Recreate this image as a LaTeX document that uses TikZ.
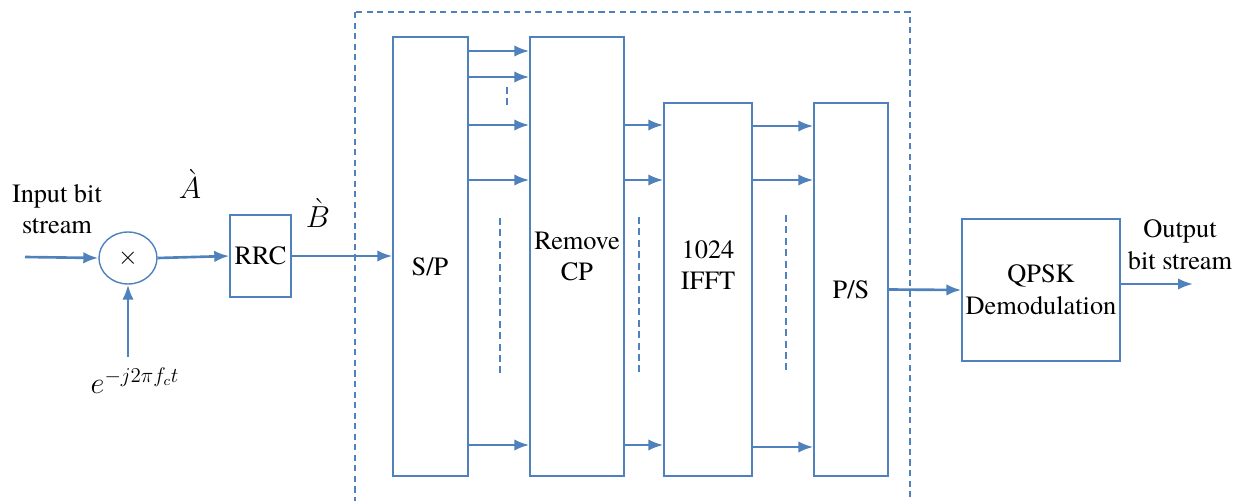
\documentclass[tikz,border=0pt]{standalone}
\usepackage{fontspec}
\setmainfont{TeX Gyre Termes}
\usetikzlibrary{arrows.meta,shapes.geometric}
\definecolor{lineblue}{RGB}{79,129,189}
\begin{document}
\begin{tikzpicture}[x=0.02cm, y=-0.02cm, >={Latex[length=3mm,width=2.3mm]},
  blk/.style={draw=lineblue, line width=0.8pt, inner sep=0pt, align=center,
    font=\fontsize{15}{18}\selectfont},
  sig/.style={->, draw=lineblue, line width=1.5pt},
  dots/.style={draw=lineblue, line width=0.8pt, dash pattern=on 4pt off 2.5pt},
  txt/.style={font=\fontsize{15}{18}\selectfont, align=center, inner sep=0pt},
  mth/.style={font=\fontsize{17}{20}\selectfont, inner sep=0pt}]
\useasboundingbox (0,0) rectangle (1246,500);
% receiver front end
\node[blk, ellipse, minimum width=1.16cm, minimum height=1.04cm] (mix) at (128,258) {$\times$};
\node[blk, minimum width=1.22cm, minimum height=1.64cm] (rrc) at (260.5,256) {RRC};
\coordinate (in) at (25,257);
\coordinate (lo) at (128,357);
\node[txt] (inlbl) at (57,209) {Input bit\\stream};
\node[mth] (lolbl) at (135,381) {$e^{-j2\pi f_c t}$};
\node[mth] (albl) at (190,184) {$\grave{A}$};
\node[mth] (blbl) at (318,213) {$\grave{B}$};
\draw[sig] (in) -- (mix.west);
\draw[sig] (lo) -- (mix.south);
\draw[sig] (mix.east) -- (rrc.west);
% OFDM part
\draw[draw=lineblue, line width=0.6pt, dash pattern=on 3.5pt off 2.5pt] (355,12) rectangle (910,520);
\node[blk, minimum width=1.5cm, minimum height=8.78cm] (sp) at (430.5,256.5) {};
\node[txt] (splbl) at (430,267) {S/P};
\node[blk, minimum width=1.88cm, minimum height=8.78cm] (rcp) at (577,256.5) {Remove\\CP};
\node[blk, minimum width=1.76cm, minimum height=7.46cm] (ifft) at (708,289.5) {};
\node[txt] (ifftlbl) at (708,265) {1024\\IFFT};
\node[blk, minimum width=1.48cm, minimum height=7.46cm] (ps) at (851,289.5) {P/S};
\draw[sig] (rrc.east) -- (sp.west |- rrc.east);
\foreach \y in {51,77,125,180,445}
  \draw[sig] (sp.east |- 0,\y) -- (rcp.west |- 0,\y);
\foreach \y in {125,180,445}
  \draw[sig] (rcp.east |- 0,\y) -- (ifft.west |- 0,\y);
\foreach \y in {126,180,447}
  \draw[sig] (ifft.east |- 0,\y) -- (ps.west |- 0,\y);
\draw[dots] (507,87) -- (507,108);
\draw[dots] (500,218) -- (500,376);
\draw[dots] (639,217) -- (639,374);
\draw[dots] (786,215) -- (786,373);
% demodulation
\node[blk, minimum width=3.16cm, minimum height=2.84cm] (qpsk) at (1041,290) {QPSK\\Demodulation};
\coordinate (out) at (1193,284);
\node[txt] (outlbl) at (1180,245) {Output\\bit stream};
\draw[sig] (ps.east) -- (qpsk.west);
\draw[sig] (qpsk.east |- out) -- (out);
\end{tikzpicture}
\end{document}
